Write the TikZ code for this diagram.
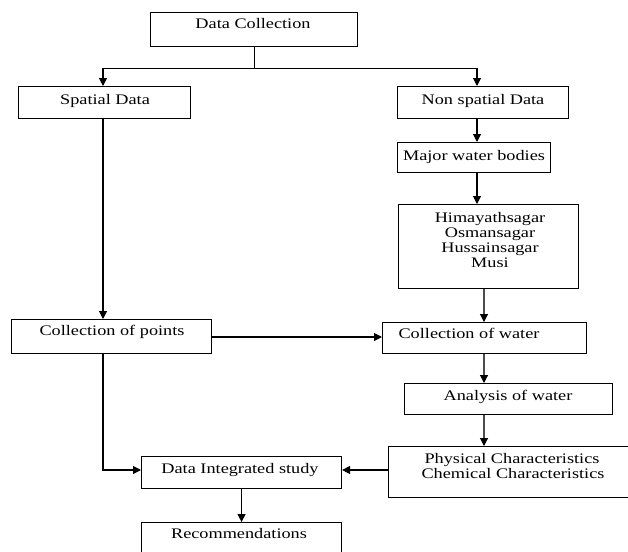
\documentclass[tikz,border=0pt]{standalone}
\usepackage{fontspec}
\setmainfont{Liberation Serif}[FakeStretch=1.25]
\usetikzlibrary{arrows.meta}
\begin{document}
\begin{tikzpicture}[x=1pt,y=-1pt,
  box/.style={draw=black,line width=1.1pt,anchor=north west,inner sep=0pt},
  txt/.style={anchor=base,inner sep=0pt,font=\fontsize{14.6}{15}\selectfont},
  arr/.style={line width=1.1pt,-{Triangle[length=8pt,width=8pt]}},
  garr/.style={arr,draw=black!70,-{Triangle[length=8pt,width=8pt,color=black]}},
  ln/.style={line width=1.1pt}]
\clip (0,0) rectangle (628,551);
\fill[white] (0,0) rectangle (628,551);
% boxes
\node[box,minimum width=207pt,minimum height=34pt] (dc) at (150,12) {};
\node[box,minimum width=172pt,minimum height=32pt] (sp) at (18,86) {};
\node[box,minimum width=171pt,minimum height=32pt] (nsp) at (397,86) {};
\node[box,minimum width=153pt,minimum height=30pt] (mwb) at (397,142) {};
\node[box,minimum width=180pt,minimum height=84pt] (him) at (398,204) {};
\node[box,minimum width=200pt,minimum height=34pt] (cp) at (11,319) {};
\node[box,minimum width=204pt,minimum height=31pt] (cw) at (382,322) {};
\node[box,minimum width=208pt,minimum height=31pt] (aw) at (404,383) {};
\node[box,minimum width=245pt,minimum height=51pt] (pc) at (388,446) {};
\node[box,minimum width=200pt,minimum height=32pt] (di) at (141,456) {};
\node[box,minimum width=200pt,minimum height=40pt] (rec) at (141,522) {};
% texts
\node[txt] (dct) at (253,29) {Data Collection};
\node[txt] (spt) at (105,104) {Spatial Data};
\node[txt] (nspt) at (483,104) {Non spatial Data};
\node[txt] (mwbt) at (474,160) {Major water bodies};
\node[txt] (him1) at (490,222) {Himayathsagar};
\node[txt] (him2) at (490,237) {Osmansagar};
\node[txt] (him3) at (490,252) {Hussainsagar};
\node[txt] (him4) at (490,267) {Musi};
\node[txt] (cpt) at (112,335) {Collection of points};
\node[txt] (cwt) at (469,338) {Collection of water};
\node[txt] (awt) at (508,400) {Analysis of water};
\node[txt] (pc1) at (512,463) {Physical Characteristics};
\node[txt] (pc2) at (513,478) {Chemical Characteristics};
\node[txt] (dit) at (240,473) {Data Integrated study};
\node[txt] (rect) at (239,538) {Recommendations};
% connectors
\coordinate (j) at ([yshift=-21pt]dc.south);
\draw[ln] (dc.south) -- (j);
\draw[arr] (j) -| ([xshift=85pt]sp.north west);
\draw[arr] (j) -| ([xshift=80pt]nsp.north west);
\draw[arr] ([xshift=85pt]sp.south west) -- ([xshift=92pt]cp.north west);
\draw[arr] ([xshift=80pt]nsp.south west) -- ([xshift=80pt]mwb.north west);
\draw[arr] ([xshift=80pt]mwb.south west) -- ([xshift=79pt]him.north west);
\draw[garr] ([xshift=86pt]him.south west) -- ([xshift=102pt]cw.north west);
\draw[arr] ([yshift=-18pt]cp.north east) -- ([yshift=-15pt]cw.north west);
\draw[garr] ([xshift=102pt]cw.south west) -- ([xshift=80pt]aw.north west);
\draw[garr] ([xshift=80pt]aw.south west) -- ([xshift=96pt]pc.north west);
\draw[arr] ([xshift=92pt]cp.south west) |- ([yshift=-14pt]di.north west);
\draw[arr] ([yshift=-24pt]pc.north west) -- ([yshift=-14pt]di.north east);
\draw[arr] (di.south) -- (rec.north);
\end{tikzpicture}
\end{document}
